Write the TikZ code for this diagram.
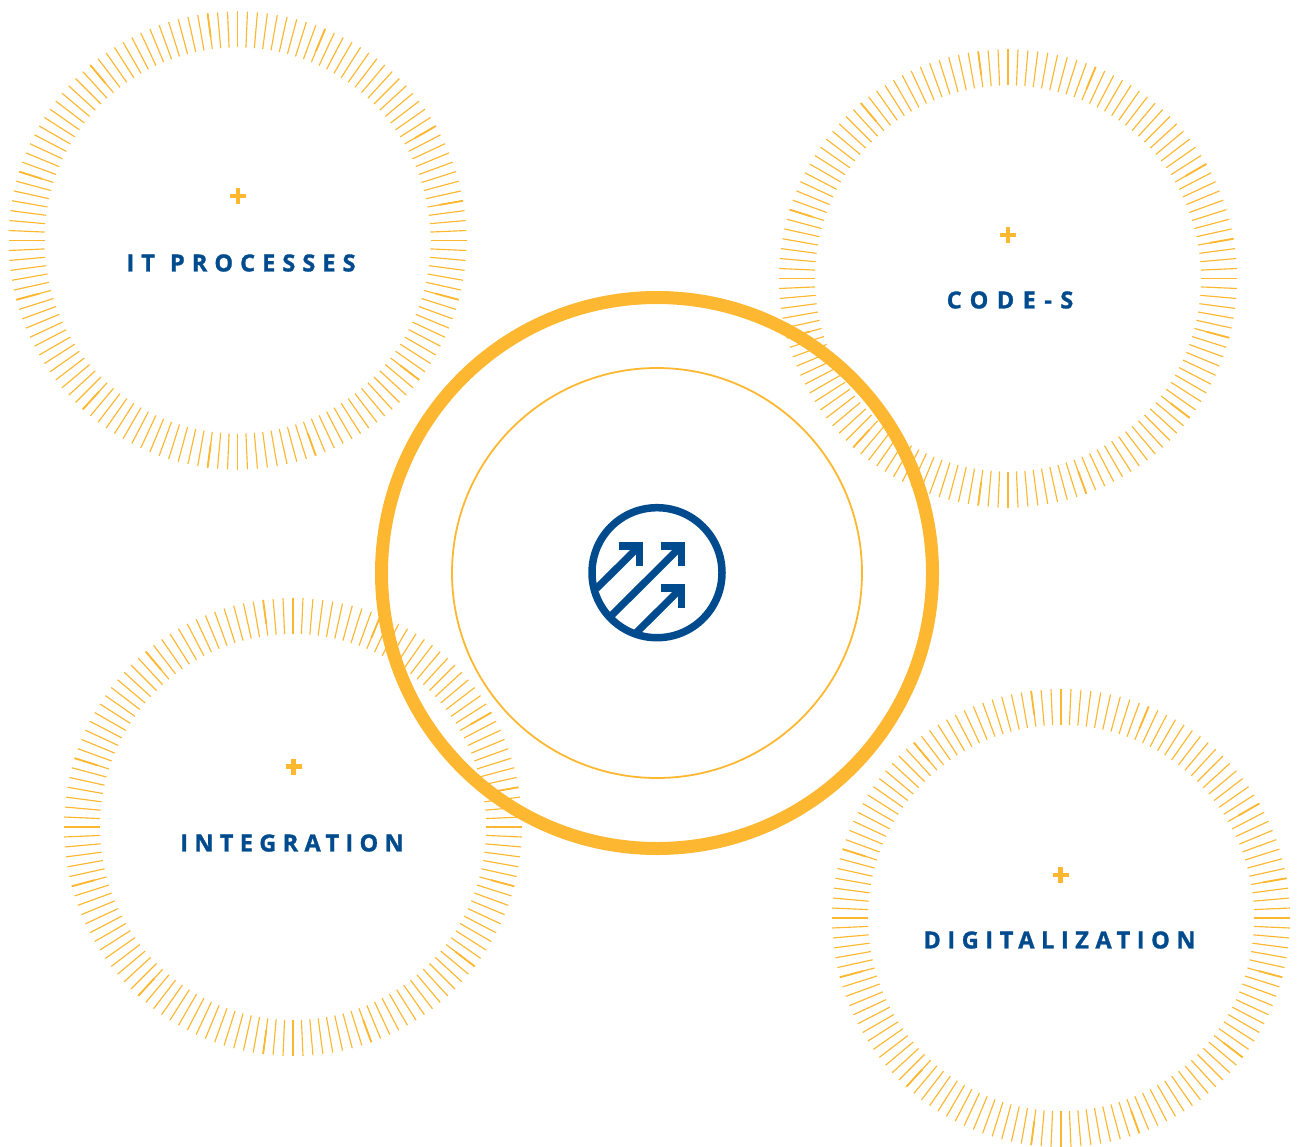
\documentclass[tikz,border=0pt]{standalone}
\usepackage{fontspec}
\setmainfont{Open Sans}[LetterSpace=27,BoldFeatures={FakeBold=1.3}]
\usetikzlibrary{calc}
\definecolor{amber}{HTML}{FDB731}
\definecolor{navy}{HTML}{004B8D}
\tikzset{
  x=1pt,y=-1pt,
  tick/.style={amber,line width=1.15pt},
  thicktick/.style={amber,line width=1.8pt},
  plusmark/.style={amber,line width=4.5pt},
  iconline/.style={navy,line width=7.3pt,miter limit=10},
  lbl/.style={navy,font=\fontsize{23.5}{28}\selectfont\bfseries,inner sep=0pt,anchor=center}
}
\newcommand{\rayring}[3]{%
  \coordinate (#3) at (#1,#2);
  \foreach \a in {0,2.5,...,357.5}{
    \draw[tick] ($(#3)+(\a:193)$) -- ($(#3)+(\a:229)$);
  }
  \foreach \a in {15,37.5,70,97.5,132.5,165,197.5,230,262.5,292.5,330,350}{
    \draw[thicktick] ($(#3)+(\a:205)$) -- ($(#3)+(\a:229)$);
  }
}
\begin{document}
\begin{tikzpicture}
\useasboundingbox (0,0) rectangle (1297,1147);
\rayring{237.5}{240.5}{ringa}
\rayring{1008}{278.5}{ringb}
\rayring{293}{827}{ringc}
\rayring{1061}{918}{ringd}
% plus marks
\coordinate (pa) at (238,196);
\coordinate (pb) at (1008,235);
\coordinate (pc) at (293.5,766.5);
\coordinate (pd) at (1060.5,875);
\foreach \p in {pa,pb,pc,pd}{
  \draw[plusmark] ($(\p)+(-8,0)$) -- ($(\p)+(8,0)$);
  \draw[plusmark] ($(\p)+(0,-8)$) -- ($(\p)+(0,8)$);
}
\node[lbl] (ta) at (241,263) {\addfontfeature{LetterSpace=30}IT\hspace{2pt} PROCESSES};
\node[lbl] (tb) at (1010,300) {\addfontfeature{LetterSpace=36}CODE-S};
\node[lbl] (tc) at (292,843) {INTEGRATION};
\node[lbl] (td) at (1059.5,940) {\addfontfeature{LetterSpace=28}DIGITALIZATION};
% centre rings
\coordinate (m) at (657,573);
\draw[amber,line width=13pt] (m) circle (275.5);
\draw[amber,line width=1.8pt] (m) circle (205);
% icon
\coordinate (ic) at (657,572.7);
\draw[navy,line width=7.5pt] (ic) circle (65);
\draw[iconline] (618.7,546) -- (639.3,546) -- (639.3,566.3);
\draw[iconline] (660.7,546) -- (681.3,546) -- (681.3,566.3);
\draw[iconline] (660.7,588) -- (681.3,588) -- (681.3,608.3);
\draw[iconline] (639.3,546) -- (596.5,588.5);
\draw[iconline] (681.3,546) -- (610.5,616.5);
\draw[iconline] (681.3,588) -- (635.5,633.5);
\end{tikzpicture}
\end{document}
